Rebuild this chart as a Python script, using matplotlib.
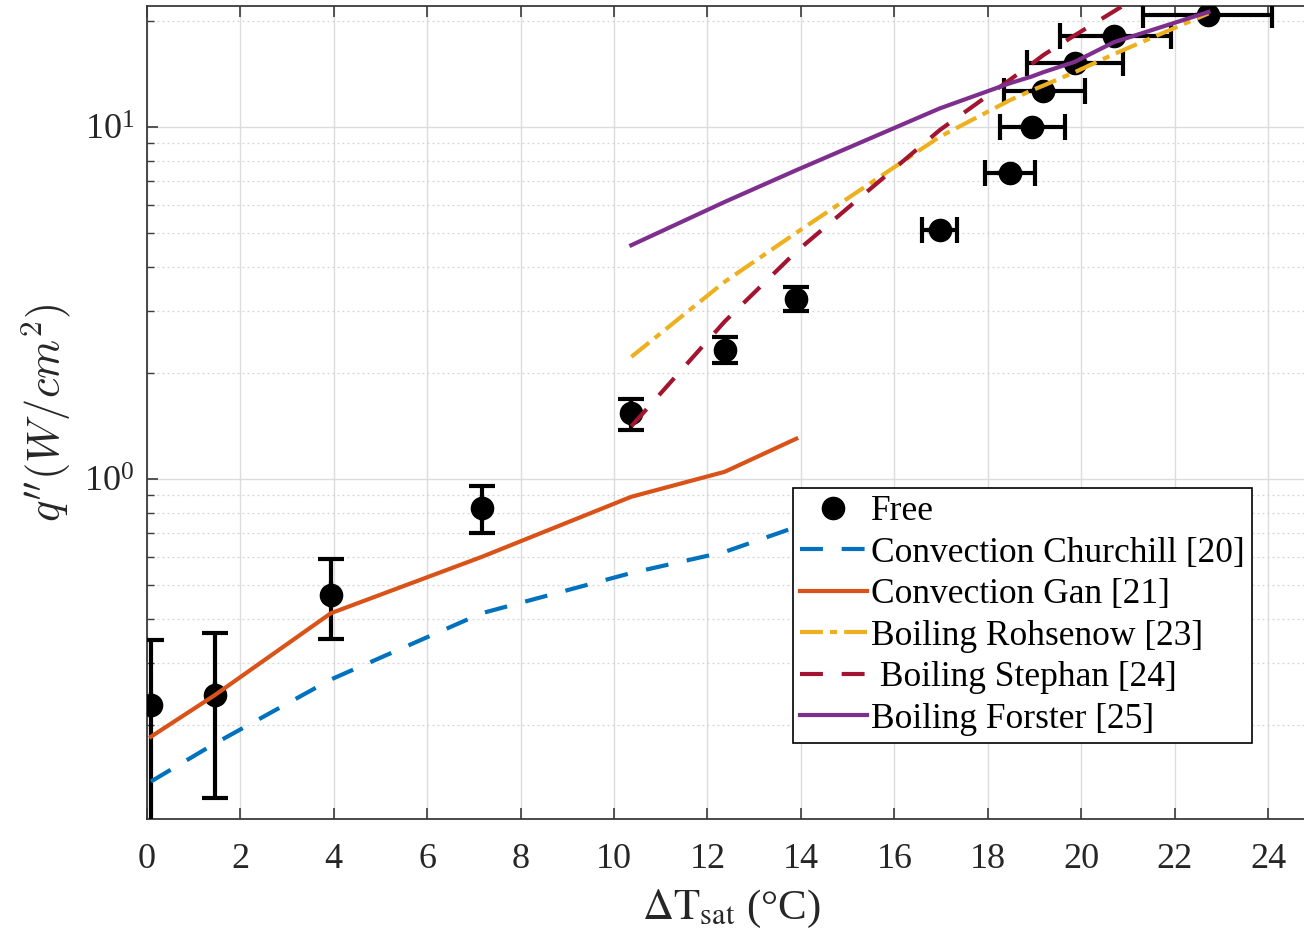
import matplotlib
matplotlib.use("Agg")
import matplotlib.pyplot as plt
from matplotlib.ticker import FixedLocator, LogLocator, NullFormatter

# ---------------- data ----------------
dT_free = [0.09, 1.46, 3.94, 7.17, 10.37, 12.37, 13.90, 16.97, 18.47, 18.94, 19.19, 19.86, 20.70, 22.72]
q_free = [0.228, 0.243, 0.469, 0.827, 1.535, 2.32, 3.25, 5.09, 7.39, 10.0, 12.66, 15.14, 18.1, 20.75]
q_err_lo = [0.15, 0.119, 0.118, 0.127, 0.16, 0.19, 0.25, 0.0, 0.0, 0.0, 0.0, 0.0, 0.0, 0.0]
q_err_hi = [0.12, 0.121, 0.122, 0.126, 0.155, 0.21, 0.26, 0.0, 0.0, 0.0, 0.0, 0.0, 0.0, 0.0]
dT_err_lo = [0.0, 0.0, 0.0, 0.0, 0.0, 0.0, 0.0, 0.38, 0.54, 0.69, 0.84, 1.02, 1.16, 1.39]
dT_err_hi = [0.0, 0.0, 0.0, 0.0, 0.0, 0.0, 0.0, 0.37, 0.54, 0.71, 0.89, 1.04, 1.21, 1.36]

dT_conv = [0.09, 1.46, 3.94, 7.17, 10.37, 12.37, 13.90]
q_churchill = [0.138, 0.177, 0.269, 0.415, 0.54, 0.62, 0.73]
q_gan = [0.185, 0.243, 0.415, 0.60, 0.889, 1.047, 1.30]

dT_boil = [10.37, 12.37, 13.90, 16.97, 18.47, 18.94, 19.19, 19.86, 20.70, 22.72]
q_rohsenow = [2.22, 3.63, 5.0, 9.37, 11.9, 12.7, 13.1, 14.3, 16.1, 21.0]
q_stephan = [1.41, 2.80, 4.42, 9.79, 13.6, 15.1, 16.0, 18.2, 21.3, 31.0]
q_forster = [4.61, 6.12, 7.53, 11.28, 13.3, 13.9, 14.3, 15.3, 17.4, 21.2]

labels = ["Free", "Convection Churchill [20]", "Convection Gan [21]",
          "Boiling Rohsenow [23]", " Boiling Stephan [24]", "Boiling Forster [25]"]
x_ticks = list(range(0, 25, 2))

# ---------------- style ----------------
plt.rcParams["font.family"] = ["Liberation Serif", "DejaVu Serif"]
plt.rcParams["mathtext.fontset"] = "stix"

W, H = 1304, 943
fig = plt.figure(figsize=(W / 100, H / 100), dpi=100)
left, right, top, bottom = 146.7, 1315.0, 6.3, 819.0
ax = fig.add_axes([left / W, 1 - bottom / H, (right - left) / W, (bottom - top) / H])

c_blue = "#0072BD"
c_orange = "#D95319"
c_yellow = "#EDB120"
c_purple = "#7E2F8E"
c_red = "#A2142F"

ax.errorbar(dT_free, q_free, yerr=[q_err_lo, q_err_hi], xerr=[dT_err_lo, dT_err_hi],
            fmt="none", ecolor="black", elinewidth=3, capsize=9.5, capthick=3, zorder=3)
ax.plot(dT_free, q_free, "o", color="black", markersize=16, label=labels[0], zorder=3)

lw = 3
ax.plot(dT_conv, q_churchill, color=c_blue, lw=lw, linestyle=(0, (5.5, 4.5)), label=labels[1], zorder=4)
ax.plot(dT_conv, q_gan, color=c_orange, lw=lw, label=labels[2], zorder=4)
ax.plot(dT_boil, q_rohsenow, color=c_yellow, lw=lw, linestyle=(0, (5.5, 1.7, 1.7, 1.7)), label=labels[3], zorder=4)
ax.plot(dT_boil, q_stephan, color=c_red, lw=lw, linestyle=(0, (5.5, 4.5)), label=labels[4], zorder=4)
ax.plot(dT_boil, q_forster, color=c_purple, lw=lw, label=labels[5], zorder=4)

ax.set_yscale("log")
ax.set_xlim(0, 25)
ax.set_ylim(0.108, 22.0)

ax.xaxis.set_major_locator(FixedLocator(x_ticks))
ax.yaxis.set_major_locator(LogLocator(base=10))
ax.yaxis.set_minor_locator(LogLocator(base=10, subs=range(2, 10)))
ax.yaxis.set_minor_formatter(NullFormatter())

ax.grid(True, which="major", color="#dcdcdc", linewidth=1.0, linestyle="-")
ax.grid(True, which="minor", axis="y", color="#d4d4d4", linewidth=0.9, linestyle=(0, (1.5, 2.5)))
ax.set_axisbelow(True)

ax.tick_params(axis="both", which="major", direction="in", length=8, width=1.2,
               labelsize=26, top=True, right=True, color="#3a3a3a", labelcolor="#262626")
ax.tick_params(axis="x", which="major", pad=17)
ax.tick_params(axis="y", which="major", pad=9)
ax.tick_params(axis="y", which="minor", direction="in", length=5, width=1.0, right=True, color="#3a3a3a")
for s in ax.spines.values():
    s.set_color("#3a3a3a")
    s.set_linewidth(1.3)

ax.set_xlabel(r"$\Delta\mathrm{T}_{\mathrm{sat}}$ (°C)", fontsize=31, color="#262626", labelpad=9)
ax.set_ylabel(r"$q''(W/cm^2)$", fontsize=32, color="#262626", math_fontfamily="cm", labelpad=8)

leg = ax.legend(loc="upper left", bbox_to_anchor=(0.553, 0.407), borderaxespad=0,
                fontsize=25.5, frameon=True, fancybox=False, edgecolor="black",
                handlelength=1.9, handletextpad=0.1, labelspacing=0.24,
                borderpad=0.2, framealpha=1)
leg.get_frame().set_linewidth(1.2)

fig.savefig("out.png", dpi=100)
